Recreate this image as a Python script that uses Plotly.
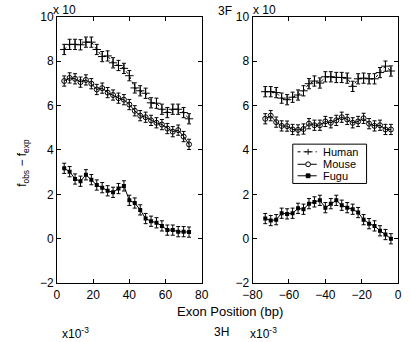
import plotly.graph_objects as go

# Left panel (position from exon start)
x_left = list(range(4, 74, 3))
human_left = [8.52, 8.75, 8.75, 8.73, 8.85, 8.85, 8.52, 8.2, 8.23, 7.92, 7.8, 7.67,
              7.34, 6.79, 6.66, 6.55, 6.12, 6.1, 5.83, 5.68, 5.83, 5.83, 5.68, 5.4]
mouse_left = [7.1, 7.24, 7.2, 7.05, 7.15, 6.98, 6.72, 6.78, 6.58, 6.47, 6.33, 6.26,
              6.04, 5.76, 5.54, 5.47, 5.33, 5.22, 5.14, 4.96, 4.82, 4.89, 4.6, 4.25]
fugu_left = [3.17, 3.02, 2.69, 2.59, 2.88, 2.66, 2.42, 2.3, 2.16, 2.09, 2.26, 2.38,
             1.73, 1.61, 1.3, 0.91, 0.79, 0.72, 0.58, 0.39, 0.39, 0.32, 0.32, 0.3]

# Right panel (position from exon end)
x_right = list(range(-73, -3, 3))
human_right = [6.62, 6.62, 6.58, 6.33, 6.26, 6.37, 6.47, 6.66, 6.98, 7.1, 7.01, 7.29,
               7.29, 7.26, 7.26, 7.23, 6.86, 7.2, 7.23, 7.2, 7.2, 7.48, 7.77, 7.55]
mouse_right = [5.4, 5.54, 5.25, 5.08, 5.07, 4.92, 4.9, 4.94, 5.18, 5.11, 5.11, 5.28,
               5.22, 5.33, 5.47, 5.37, 5.22, 5.28, 5.42, 5.18, 5.08, 5.11, 4.92, 4.92]
fugu_right = [0.91, 0.82, 0.86, 1.15, 1.12, 1.15, 1.37, 1.33, 1.58, 1.66, 1.73, 1.4,
              1.58, 1.73, 1.51, 1.4, 1.33, 1.18, 0.86, 0.68, 0.58, 0.36, 0.19, 0.0]

err = 0.23
y_ticks = [-2, 0, 2, 4, 6, 8, 10]
x_ticks_left = [0, 20, 40, 60, 80]
x_ticks_right = [-80, -60, -40, -20, 0]
series_names = ["Human", "Mouse", "Fugu"]

W, H = 410, 342
FONT = "Liberation Sans, Arial, sans-serif"
fig = go.Figure()

styles = {
    "Human": dict(line=dict(color="black", width=1, dash="dot"),
                  marker=dict(symbol="cross-thin", size=6, line=dict(color="black", width=1), color="black")),
    "Mouse": dict(line=dict(color="black", width=1),
                  marker=dict(symbol="circle-open", size=5, line=dict(color="black", width=1), color="black")),
    "Fugu": dict(line=dict(color="black", width=1),
                 marker=dict(symbol="square", size=4, color="black")),
}

for name, yl, yr in [("Human", human_left, human_right),
                     ("Mouse", mouse_left, mouse_right),
                     ("Fugu", fugu_left, fugu_right)]:
    st = styles[name]
    for xs, ys, xa, ya in [(x_left, yl, "x", "y"), (x_right, yr, "x2", "y2")]:
        fig.add_trace(go.Scatter(x=xs, y=ys, mode="lines+markers", name=name,
                                 showlegend=False, xaxis=xa, yaxis=ya,
                                 error_y=dict(type="constant", value=err, color="black",
                                              thickness=1, width=2), **st))

ax_common = dict(showline=True, linecolor="black", linewidth=1, mirror="ticks",
                 ticks="inside", ticklen=4, tickcolor="black", showgrid=False,
                 zeroline=False, tickfont=dict(family=FONT, size=12, color="black"))

fig.update_layout(
    width=W, height=H, margin=dict(l=0, r=0, t=0, b=0),
    paper_bgcolor="white", plot_bgcolor="white", showlegend=False,
    xaxis=dict(domain=[49/W, 200/W], range=[0, 80], tickvals=x_ticks_left,
               anchor="y", **ax_common),
    yaxis=dict(domain=[1-288/H, 1-10/H], range=[-2, 10], tickvals=y_ticks,
               anchor="x", **ax_common),
    xaxis2=dict(domain=[253/W, 405/W], range=[-80, 0], tickvals=x_ticks_right,
                anchor="y2", **ax_common),
    yaxis2=dict(domain=[1-288/H, 1-10/H], range=[-2, 10], tickvals=y_ticks,
                anchor="x2", **ax_common),
    font=dict(family=FONT, color="black"),
)

def px(x):
    return x / W

def py(y):
    return 1 - y / H

# Compact legend box (drawn manually to match the reference's tight layout)
fig.add_shape(type="rect", xref="paper", yref="paper",
              x0=px(295), x1=px(372), y0=py(184), y1=py(143),
              line=dict(color="black", width=1), fillcolor="white", layer="above")
row_y = [151, 164, 176]
for name, ry in zip(series_names, row_y):
    dash = "dot" if name == "Human" else "solid"
    fig.add_shape(type="line", xref="paper", yref="paper",
                  x0=px(300), x1=px(320), y0=py(ry), y1=py(ry),
                  line=dict(color="black", width=1, dash=dash), layer="above")
    cx = 311
    if name == "Human":
        fig.add_shape(type="line", xref="paper", yref="paper", x0=px(cx - 3), x1=px(cx + 3),
                      y0=py(ry), y1=py(ry), line=dict(color="black", width=1), layer="above")
        fig.add_shape(type="line", xref="paper", yref="paper", x0=px(cx), x1=px(cx),
                      y0=py(ry - 3), y1=py(ry + 3), line=dict(color="black", width=1), layer="above")
    elif name == "Mouse":
        fig.add_shape(type="circle", xref="paper", yref="paper", x0=px(cx - 2.5), x1=px(cx + 2.5),
                      y0=py(ry - 2.5), y1=py(ry + 2.5), line=dict(color="black", width=1),
                      fillcolor="white", layer="above")
    else:
        fig.add_shape(type="rect", xref="paper", yref="paper", x0=px(cx - 2), x1=px(cx + 2),
                      y0=py(ry - 2), y1=py(ry + 2), line=dict(color="black", width=1),
                      fillcolor="black", layer="above")
    fig.add_annotation(text=name, x=px(325), y=py(ry), xref="paper", yref="paper",
                       showarrow=False, xanchor="left", yanchor="middle",
                       font=dict(family=FONT, size=11, color="black"),
                       borderpad=0)

ann = [
    dict(text="Exon Position (bp)", x=230, y=317, size=13),
    dict(text="f<sub>obs</sub> − f<sub>exp</sub>", x=14, y=162, size=12, angle=-90),
    dict(text="x 10", x=57, y=3, size=12),
    dict(text="x 10", x=265, y=3, size=12),
    dict(text="3F", x=224, y=4, size=12),
    dict(text="x10<sup>-3</sup>", x=68, y=340, size=12),
    dict(text="3H", x=221, y=339, size=12),
    dict(text="x10<sup>-3</sup>", x=264, y=340, size=12),
]
for a in ann:
    fig.add_annotation(text=a["text"], x=px(a["x"]), y=py(a["y"]), xref="paper", yref="paper",
                       showarrow=False, textangle=a.get("angle", 0),
                       xanchor="center", yanchor="middle", borderpad=0,
                       font=dict(family=FONT, size=a["size"], color="black"))

fig.write_html("out.html")
